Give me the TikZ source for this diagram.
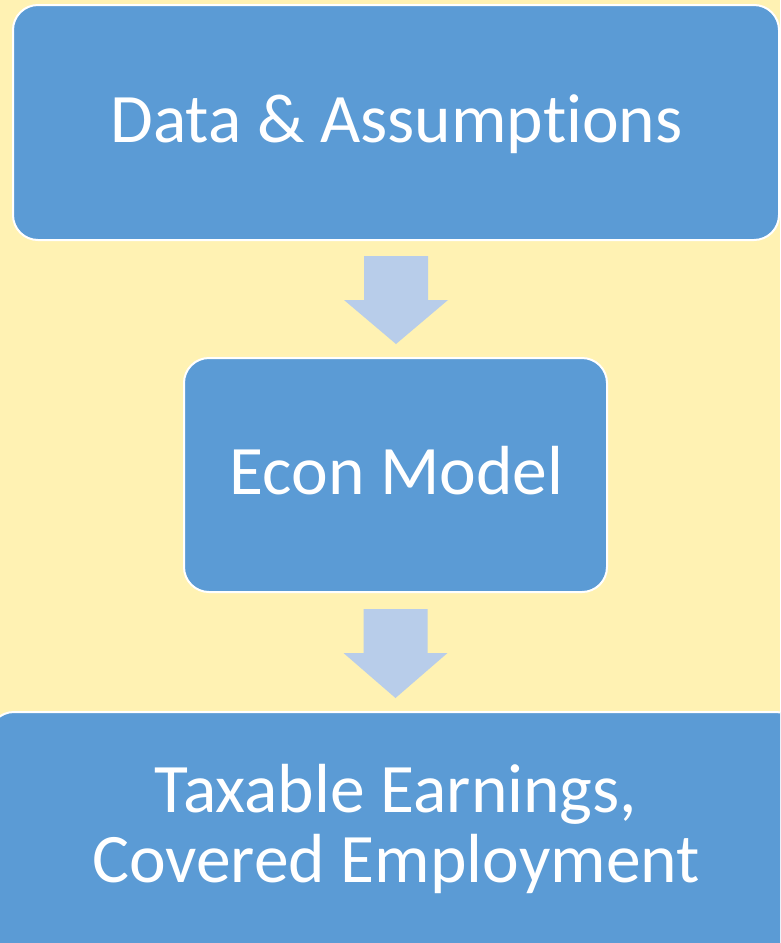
\documentclass[tikz,border=0pt]{standalone}
\usepackage{fontspec}
\setmainfont[Ligatures={NoCommon},RawFeature={-liga;-clig;-calt}]{Carlito}
\definecolor{bgcream}{HTML}{FFF2B3}
\definecolor{boxblue}{HTML}{5B9BD5}
\definecolor{arrowblue}{HTML}{B8CDEA}
\begin{document}
\begin{tikzpicture}[x=1pt,y=-1pt,
  box/.style={draw=white, line width=2pt, fill=boxblue, rounded corners=25pt, inner sep=0pt},
  lbl/.style={text=white, font=\fontsize{69.5}{73}\selectfont, anchor=base, inner sep=0pt},
  downarrow/.style={fill=arrowblue, draw=none}]
\useasboundingbox (0,0) rectangle (780,943);
\clip (0,0) rectangle (780,943);
\fill[bgcream] (0,0) rectangle (780,943);
\node[box, minimum width=766pt, minimum height=235pt] (b1) at (396,122.5) {};
\node[box, minimum width=423pt, minimum height=234pt] (b2) at (395.5,475) {};
\node[box, minimum width=812pt, minimum height=250pt] (b3) at (395,837) {};
\node[lbl] (t1) at (396.5,142) {Data \& Assumpt\kern0pt ions};
\node[lbl] (t2) at (396.5,494) {Econ Model};
\node[lbl] (t3a) at (396,812) {Taxable Earnings,};
\node[lbl] (t3b) at (396,882) {Covered Employment};
\fill[downarrow] ([shift={(-32,15)}]b1.south) -- ++(64,0) -- ++(0,44) -- ++(20,0) -- ([shift={(0,103)}]b1.south) -- ++(-52,-44) -- ++(20,0) -- cycle;
\fill[downarrow] ([shift={(-32,16)}]b2.south) -- ++(64,0) -- ++(0,44) -- ++(20,0) -- ([shift={(0,105)}]b2.south) -- ++(-52,-45) -- ++(20,0) -- cycle;
\end{tikzpicture}
\end{document}
